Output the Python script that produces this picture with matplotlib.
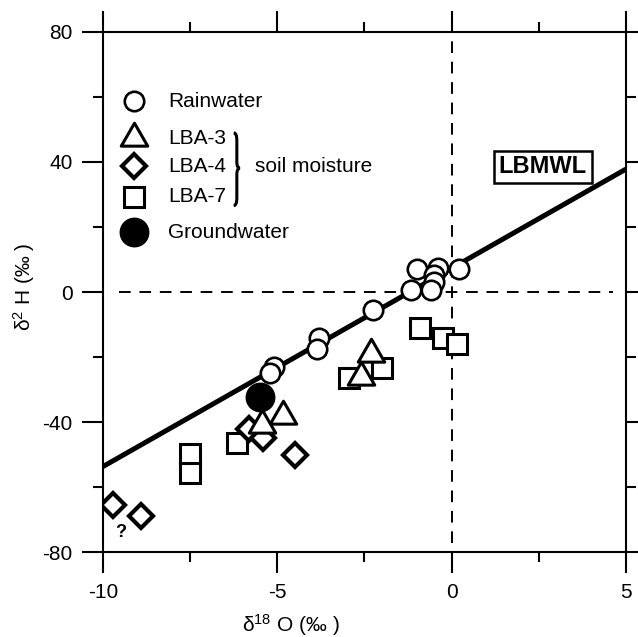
import matplotlib
matplotlib.use('Agg')
import matplotlib.pyplot as plt
from matplotlib.path import Path
from matplotlib.patches import PathPatch

plt.rcParams['font.family'] = ['Liberation Sans', 'DejaVu Sans']
plt.rcParams['axes.unicode_minus'] = False
plt.rcParams['mathtext.default'] = 'regular'

# rainwater
rain_x = [-1.0, -0.4, 0.2, -0.5, -0.5, -1.15, -0.6, -2.25, -3.8, -3.85, -5.1, -5.2]
rain_y = [7.2, 7.4, 7.2, 5.2, 3.0, 0.5, 0.5, -5.5, -14.2, -17.5, -23.0, -25.0]

# soil moisture
lba3_x = [-2.3, -2.6, -4.85, -5.45]
lba3_y = [-19.0, -26.0, -38.0, -41.0]
lba4_x = [-5.8, -5.4, -4.5, -9.7, -8.9]
lba4_y = [-42.0, -45.0, -50.0, -65.5, -69.0]
lba7_x = [-6.15, -7.5, -7.5, -2.95, -2.0, -0.9, -0.25, 0.15]
lba7_y = [-46.5, -49.8, -55.8, -26.5, -23.5, -11.0, -14.2, -16.0]

# groundwater
gw_x = [-5.5]
gw_y = [-32.3]

# LBMWL
lmwl_x = [-10, 5]
lmwl_y = [-53.7, 37.8]

fig = plt.figure(figsize=(6.38, 6.37), dpi=100)
ax = fig.add_axes([0.1614, 0.1334, 0.8196, 0.8164])

ax.set_xlim(-10, 5)
ax.set_ylim(-80, 80)

ax.axhline(0, xmin=0.03, xmax=0.975, color='black', lw=1.4, ls=(0, (6, 4.5)), zorder=1)
ax.axvline(0, ymin=0.017, ymax=0.99, color='black', lw=1.4, ls=(0, (6, 4.5)), zorder=1)

ax.plot(lmwl_x, lmwl_y, color='black', lw=3.6, zorder=2, solid_capstyle='butt')

tri = Path([(0, 0.577), (-0.5, -0.289), (0.5, -0.289), (0, 0.577)],
           [Path.MOVETO, Path.LINETO, Path.LINETO, Path.CLOSEPOLY])
ax.plot(lba7_x, lba7_y, 's', ms=14.5, mfc='white', mec='black', mew=2.2, ls='none', zorder=3)
ax.plot(lba4_x, lba4_y, 'D', ms=12.5, mfc='white', mec='black', mew=3.0, ls='none', zorder=4)
ax.plot(lba3_x, lba3_y, marker=tri, ms=22, mfc='white', mec='black', mew=2.2, ls='none', zorder=5)
ax.plot(rain_x, rain_y, 'o', ms=14, mfc='white', mec='black', mew=1.9, ls='none', zorder=6)
ax.plot(gw_x, gw_y, 'o', ms=20.5, mfc='black', mec='black', ls='none', zorder=7)

ax.text(-9.5, -74, '?', fontsize=13, fontweight='bold', ha='center', va='center')

ax.text(2.62, 38.5, 'LBMWL', fontsize=17, fontweight='bold', ha='center', va='center',
        bbox=dict(boxstyle='square,pad=0.2', fc='white', ec='black', lw=1.8))

# legend drawn by hand, with the brace
leg_x = 0.059
txt_x = 0.124
rows = [0.867, 0.796, 0.742, 0.683, 0.615]
names = ['Rainwater', 'LBA-3', 'LBA-4', 'LBA-7', 'Groundwater']
styles = [dict(marker='o', ms=14, mfc='white', mew=1.9),
          dict(marker=tri, ms=22, mfc='white', mew=2.2),
          dict(marker='D', ms=12.5, mfc='white', mew=3.0),
          dict(marker='s', ms=14.5, mfc='white', mew=2.2),
          dict(marker='o', ms=20.5, mfc='black', mew=1.0)]
for yy, nm, st in zip(rows, names, styles):
    ax.plot([leg_x], [yy], transform=ax.transAxes, mec='black', ls='none', clip_on=False, **st)
    ax.text(txt_x, yy, nm, transform=ax.transAxes, fontsize=15, va='center', ha='left')

x0, w, tip = 0.250, 0.006, 0.262
yt, yb, ym = 0.806, 0.666, 0.738
verts = [(x0, yt), (x0 + w, yt), (x0 + w, yt - 0.015),
         (x0 + w, ym + 0.012),
         (x0 + w, ym), (tip, ym),
         (x0 + w, ym), (x0 + w, ym - 0.012),
         (x0 + w, yb + 0.015),
         (x0 + w, yb), (x0, yb)]
codes = [Path.MOVETO, Path.CURVE3, Path.CURVE3, Path.LINETO,
         Path.CURVE3, Path.CURVE3, Path.CURVE3, Path.CURVE3,
         Path.LINETO, Path.CURVE3, Path.CURVE3]
ax.add_patch(PathPatch(Path(verts, codes), transform=ax.transAxes, fc='none', ec='black', lw=2.2))
ax.text(0.29, 0.742, 'soil moisture', transform=ax.transAxes, fontsize=15, va='center', ha='left')

# axes & ticks
for s in ax.spines.values():
    s.set_linewidth(1.5)
ax.set_xticks([-10, -5, 0, 5])
ax.set_xticks([-7.5, -2.5, 2.5], minor=True)
ax.set_yticks([-80, -40, 0, 40, 80])
ax.set_yticks([-60, -20, 20, 60], minor=True)
ax.tick_params(which='both', direction='out', width=1.5, top=True, right=True,
               labeltop=False, labelright=False, labelsize=15)
ax.tick_params(which='major', length=15, pad=7)
ax.tick_params(which='minor', length=7.5)

ax.text(0.36, -0.14, r'δ$^{18}$ O (‰ )', transform=ax.transAxes, fontsize=15,
        ha='center', va='center')
ax.text(-0.15, 0.51, r'δ$^{2}$ H (‰ )', transform=ax.transAxes, fontsize=15,
        ha='center', va='center', rotation=90)

fig.savefig('out.png', dpi=100)
